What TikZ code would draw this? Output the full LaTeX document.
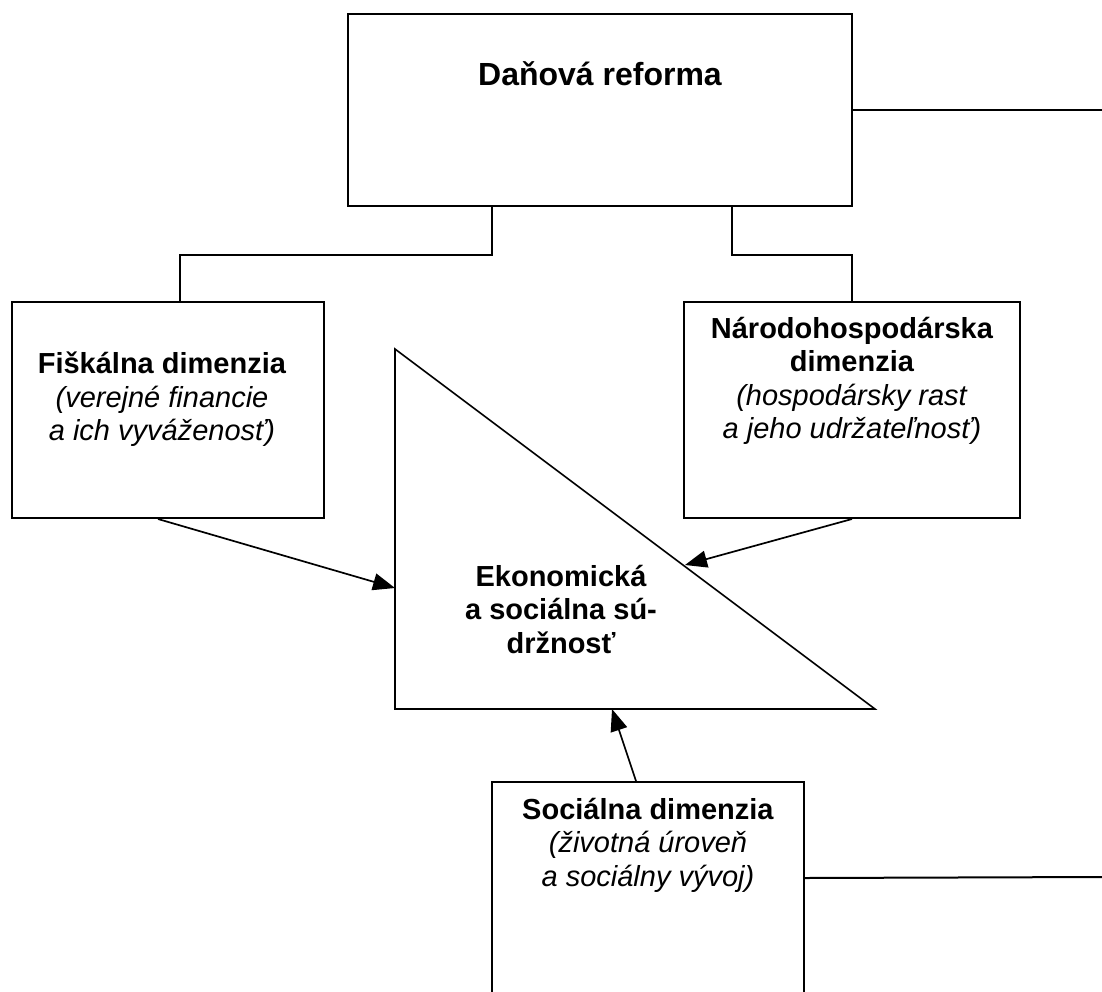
\documentclass[tikz,border=0pt]{standalone}
\usepackage{fontspec}
\setmainfont{Liberation Sans}
\usetikzlibrary{arrows.meta,positioning}
\begin{document}
\begin{tikzpicture}[x=1pt, y=-1pt,
      box/.style = {draw, rectangle, line width=2pt, anchor=north west, inner sep=0pt},
      lbl/.style = {align=center, inner sep=0pt, font=\fontsize{29}{33.5}\selectfont},
      link/.style = {line width=2pt},
      arr/.style = {line width=1.7pt, -{Triangle[length=22pt, width=17pt]}}]
  \useasboundingbox (0,0) rectangle (1102,991);
  \fill[white] (0,0) rectangle (1102,991);
  \clip (0,0) rectangle (1102,991);
  % boxes
  \node[box, minimum width=504pt, minimum height=192pt] (reform) at (347,13) {};
  \node[box, minimum width=312pt, minimum height=216pt] (fisk) at (11,301) {};
  \node[box, minimum width=336pt, minimum height=216pt] (narod) at (683,301) {};
  \node[box, minimum width=312pt, minimum height=230pt] (soc) at (491,781) {};
  % texts
  \node[lbl, anchor=base, font=\fontsize{32}{38}\selectfont\bfseries] (reformtext)
    at ([yshift=-72pt]reform.north) {Daňová reforma};
  \node[lbl, below=51pt of fisk.north, xshift=-6pt] (fisktext)
    {\textbf{Fiškálna dimenzia}\\ \textit{(verejné financie}\\ \textit{a ich vyváženosť)}};
  \node[lbl, below=16pt of narod.north] (narodtext)
    {\textbf{Národohospodárska}\\ \textbf{dimenzia}\\ \textit{(hospodársky rast}\\ \textit{a jeho udržateľnosť)}};
  \node[lbl, below=17pt of soc.north] (soctext)
    {\textbf{Sociálna dimenzia}\\ \textit{(životná úroveň}\\ \textit{a sociálny vývoj)}};
  % triangle
  \coordinate (tritop) at (395,349);
  \coordinate (trileft) at (395,709);
  \coordinate (triright) at (875,709);
  \draw[line width=1.6pt] (tritop) -- (trileft) -- (triright) -- cycle;
  \node[lbl, anchor=north, font=\fontsize{29}{33.5}\selectfont\bfseries] (ekotext) at (561,565)
    {Ekonomická\\ a sociálna sú-\\ držnosť};
  \coordinate (ekow) at (395,588);
  \coordinate (ekone) at (685,565);
  \coordinate (ekos) at (612,709);
  % connectors
  \coordinate (edgetop) at (1102,108);
  \coordinate (edgebot) at (1102,877);
  \draw[link] ([xshift=-108pt]reform.south) -- ++(0,48) -| ([xshift=12pt]fisk.north);
  \draw[link] ([xshift=132pt]reform.south) -- ++(0,48) -| (narod.north);
  \draw[link] (reform.east) -- (reform.east -| edgetop);
  \draw[link] ([yshift=19pt]soc.east) -- (edgebot);
  \draw[arr] ([xshift=-10pt]fisk.south) -- (ekow);
  \draw[arr] (narod.south) -- (ekone);
  \draw[arr] ([xshift=-12pt]soc.north) -- (ekos);
\end{tikzpicture}
\end{document}
